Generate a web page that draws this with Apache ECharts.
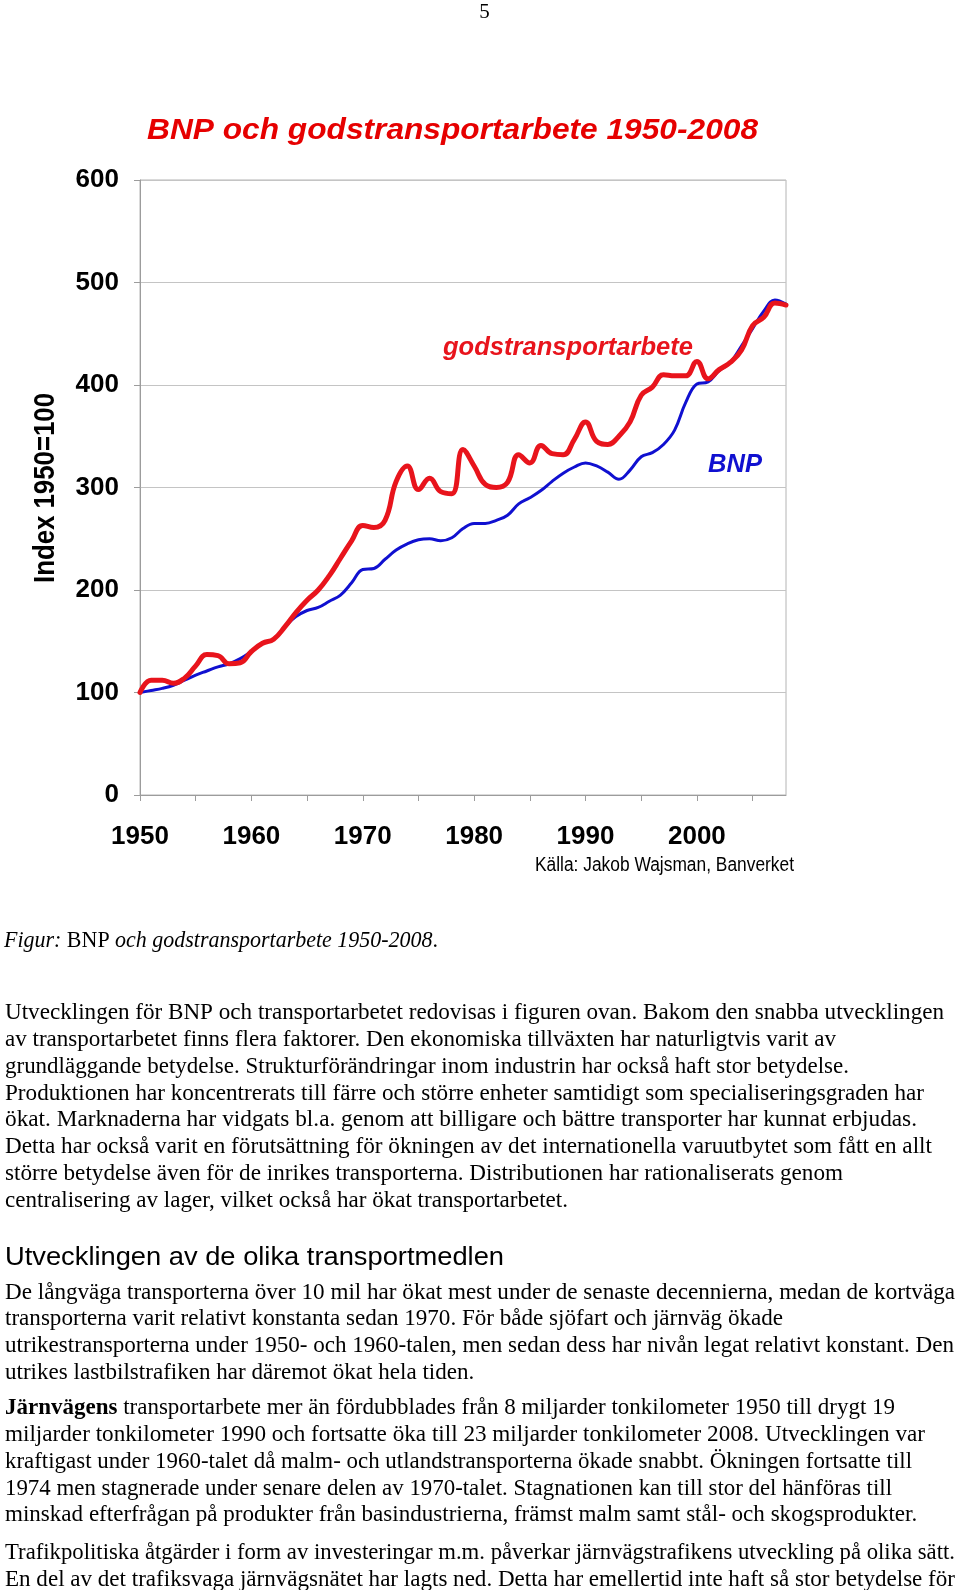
<!DOCTYPE html>
<html>
<head>
<meta charset="utf-8">
<script src="https://cdn.jsdelivr.net/npm/echarts@6/dist/echarts.min.js"></script>
<style>
html,body{margin:0;padding:0;background:#fff;}
#c{width:960px;height:1590px;}
</style>
</head>
<body>
<div id="c"></div>
<script>
// ---------------- data ----------------
const years = [1950,1951,1952,1953,1954,1955,1956,1957,1958,1959,
               1960,1961,1962,1963,1964,1965,1966,1967,1968,1969,
               1970,1971,1972,1973,1974,1975,1976,1977,1978,1979,
               1980,1981,1982,1983,1984,1985,1986,1987,1988,1989,
               1990,1991,1992,1993,1994,1995,1996,1997,1998,1999,
               2000,2001,2002,2003,2004,2005,2006,2007,2008];
const bnp = [100,102,104,107,112,117,121,125,128,133,
             140,148,152,164,174,180,183,189,195,207,
             220,221,230,239,245,249,250,248,251,260,
             265,265,268,273,284,290,297,306,314,320,
             324,321,315,308,317,330,334,342,356,383,
             401,403,414,422,438,455,472,483,479];
const godstransport = [100,112,112,109,114,126,137,136,128,129,
                       140,148,152,164,178,190,200,214,231,248,
                       263,261,268,306,321,298,309,296,294,337,
                       321,303,300,305,332,324,341,333,332,347,
                       364,345,342,350,364,390,398,410,409,409,
                       423,406,415,422,434,458,466,480,478];
const xTickLabels = [1950,1960,1970,1980,1990,2000];
const yTickLabels = [0,100,200,300,400,500,600];

const pageNumber = '5';
const chartTitle = 'BNP och godstransportarbete 1950-2008';
const yAxisTitle = 'Index 1950=100';
const labelGods = 'godstransportarbete';
const labelBnp = 'BNP';
const sourceText = 'Källa: Jakob Wajsman, Banverket';
const captionParts = ['Figur: ', 'BNP ', 'och godstransportarbete 1950-2008', '.'];
const para1 = [
  'Utvecklingen för BNP och transportarbetet redovisas i figuren ovan. Bakom den snabba utvecklingen',
  'av transportarbetet finns flera faktorer. Den ekonomiska tillväxten har naturligtvis varit av',
  'grundläggande betydelse. Strukturförändringar inom industrin har också haft stor betydelse.',
  'Produktionen har koncentrerats till färre och större enheter samtidigt som specialiseringsgraden har',
  'ökat. Marknaderna har vidgats bl.a. genom att billigare och bättre transporter har kunnat erbjudas.',
  'Detta har också varit en förutsättning för ökningen av det internationella varuutbytet som fått en allt',
  'större betydelse även för de inrikes transporterna. Distributionen har rationaliserats genom',
  'centralisering av lager, vilket också har ökat transportarbetet.'
];
const heading = 'Utvecklingen av de olika transportmedlen';
const para2 = [
  'De långväga transporterna över 10 mil har ökat mest under de senaste decennierna, medan de kortväga',
  'transporterna varit relativt konstanta sedan 1970. För både sjöfart och järnväg ökade',
  'utrikestransporterna under 1950- och 1960-talen, men sedan dess har nivån legat relativt konstant. Den',
  'utrikes lastbilstrafiken har däremot ökat hela tiden.'
];
const para3Bold = 'Järnvägens';
const para3 = [
  ' transportarbete mer än fördubblades från 8 miljarder tonkilometer 1950 till drygt 19',
  'miljarder tonkilometer 1990 och fortsatte öka till 23 miljarder tonkilometer 2008. Utvecklingen var',
  'kraftigast under 1960-talet då malm- och utlandstransporterna ökade snabbt. Ökningen fortsatte till',
  '1974 men stagnerade under senare delen av 1970-talet. Stagnationen kan till stor del hänföras till',
  'minskad efterfrågan på produkter från basindustrierna, främst malm samt stål- och skogsprodukter.'
];
const para4 = [
  'Trafikpolitiska åtgärder i form av investeringar m.m. påverkar järnvägstrafikens utveckling på olika sätt.',
  'En del av det trafiksvaga järnvägsnätet har lagts ned. Detta har emellertid inte haft så stor betydelse för'
];

// ---------------- layout / styles ----------------
const SERIF = '"Liberation Serif", "Times New Roman", serif';
const SANS = '"Liberation Sans", Arial, sans-serif';
const fR = '24px ' + SERIF;
const fI = 'italic 24px ' + SERIF;
const fB = 'bold 24px ' + SERIF;

const mctx = document.createElement('canvas').getContext('2d');
function mw(font, t) { mctx.font = font; return mctx.measureText(t).width; }
function hasFont(name) {
  const s = 'abcdefghijklmnopqrstuvwxyz 1950';
  return Math.abs(mw('bold 40px "' + name + '", monospace', s) - mw('bold 40px monospace', s)) > 0.5;
}
const narrow = hasFont('Liberation Sans Narrow');
const axisFontFamily = narrow ? '"Liberation Sans Narrow"' : 'Liberation Sans';
const axisFontSize = narrow ? 31 : 26;

const graphics = [];
function place(frags, x, y, right, kFixed, opt) {
  opt = opt || {};
  const ws = frags.map(f => mw(f[1], f[0]));
  const total = ws.reduce((a, b) => a + b, 0);
  const k = right != null ? (right - x) / total : kFixed;
  let acc = 0;
  frags.forEach((f, i) => {
    graphics.push({
      type: 'text', x: x + acc * k, y: y, scaleX: k, scaleY: opt.scaleY || 1,
      rotation: opt.rotation || 0, silent: true, z: 100,
      style: { text: f[0], font: f[1], fill: opt.fill || '#000', align: opt.align || 'left', verticalAlign: 'middle' }
    });
    acc += ws[i];
  });
  return k;
}

const DY = 2.8; // vertical correction
const LH = 26.9;
const bodySpecs = [];
para1.forEach((t, i) => bodySpecs.push({ frags: [[t, fR]], y: 1009.8 + DY + i * LH, right: [944, 836, 849, 924, 917, 932, 843, null][i] }));
para2.forEach((t, i) => bodySpecs.push({ frags: [[t, fR]], y: 1289.5 + DY + i * LH, right: [955, 783, 954, null][i] }));
para3.forEach((t, i) => bodySpecs.push({ frags: i === 0 ? [[para3Bold, fB], [t, fR]] : [[t, fR]], y: 1405 + DY + i * 26.85, right: [895, 925, 912, 892, null][i] }));
para4.forEach((t, i) => bodySpecs.push({ frags: [[t, fR]], y: 1550 + DY + i * 26.5, right: [955, 955][i] }));

let ks = [];
bodySpecs.forEach(s => {
  if (s.right != null) {
    const tot = s.frags.reduce((a, f) => a + mw(f[1], f[0]), 0);
    ks.push((s.right - 5) / tot);
  }
});
const kAvg = ks.reduce((a, b) => a + b, 0) / ks.length;
bodySpecs.forEach(s => place(s.frags, 5, s.y, s.right, kAvg));

// caption
place([[captionParts[0], fI], [captionParts[1], fR], [captionParts[2], fI], [captionParts[3], fR]], 4, 937.7 + DY, 438, null);
// heading
place([[heading, '25px ' + SANS]], 5, 1255 + DY, 504, null);
// page number
graphics.push({ type: 'text', x: 484.5, y: 12, silent: true, z: 100,
  style: { text: pageNumber, font: '21px ' + SERIF, fill: '#000', align: 'center', verticalAlign: 'middle' } });
// chart title
place([[chartTitle, 'italic bold 30px ' + SANS]], 147, 130.5, 758, null, { fill: '#e60000' });
// series labels
place([[labelGods, 'italic bold 26px ' + SANS]], 443, 347.5, 693, null, { fill: '#e8141c' });
place([[labelBnp, 'italic bold 26.5px ' + SANS]], 708, 464.5, 762, null, { fill: '#1010d0' });
// source
place([[sourceText, '20px ' + SANS]], 535, 865, 794, null);
// y axis title (rotated)
(function () {
  const f = 'bold 29px ' + SANS;
  const k = 190 / mw(f, yAxisTitle);
  graphics.push({ type: 'text', x: 45.6, y: 488, rotation: Math.PI / 2, scaleX: k, silent: true, z: 100,
    style: { text: yAxisTitle, font: f, fill: '#000', align: 'center', verticalAlign: 'middle' } });
})();

// ---------------- chart ----------------
const chart = echarts.init(document.getElementById('c'), null, { renderer: 'canvas' });
const gray = '#9c9c9c';
const option = {
  animation: false,
  backgroundColor: '#ffffff',
  grid: { left: 140, top: 180, width: 646, height: 615, show: true, borderColor: '#b4b4b4', borderWidth: 1,
          backgroundColor: 'transparent', containLabel: false, outerBoundsMode: 'none' },
  xAxis: {
    type: 'value', min: 1950, max: 2008, interval: 5,
    axisLine: { show: true, onZero: false, lineStyle: { color: gray, width: 1 } },
    axisTick: { show: true, length: 6, lineStyle: { color: gray } },
    splitLine: { show: false },
    axisLabel: {
      margin: narrow ? 27 : 29, color: '#000', fontWeight: 'bold', fontFamily: axisFontFamily, fontSize: axisFontSize,
      showMaxLabel: false,
      formatter: v => xTickLabels.indexOf(v) >= 0 ? String(v) : ''
    }
  },
  yAxis: {
    type: 'value', min: 0, max: 600, interval: 100,
    axisLine: { show: true, lineStyle: { color: gray, width: 1 } },
    axisTick: { show: true, length: 6, lineStyle: { color: gray } },
    splitLine: { show: true, lineStyle: { color: '#c4c4c4', width: 1 } },
    axisLabel: {
      margin: 21, color: '#000', fontWeight: 'bold', fontFamily: axisFontFamily, fontSize: axisFontSize,
      formatter: v => yTickLabels.indexOf(v) >= 0 ? String(v) : ''
    }
  },
  series: [
    { type: 'line', name: labelBnp, data: years.map((y, i) => [y, bnp[i]]), smooth: 0.4, symbol: 'none',
      lineStyle: { color: '#1010d0', width: 3, cap: 'round', join: 'round' }, z: 2 },
    { type: 'line', name: labelGods, data: years.map((y, i) => [y, godstransport[i]]), smooth: 0.45, symbol: 'none',
      lineStyle: { color: '#e8141c', width: 5, cap: 'round', join: 'round' }, z: 3 }
  ],
  graphic: { elements: graphics }
};
chart.setOption(option);
</script>
</body>
</html>
